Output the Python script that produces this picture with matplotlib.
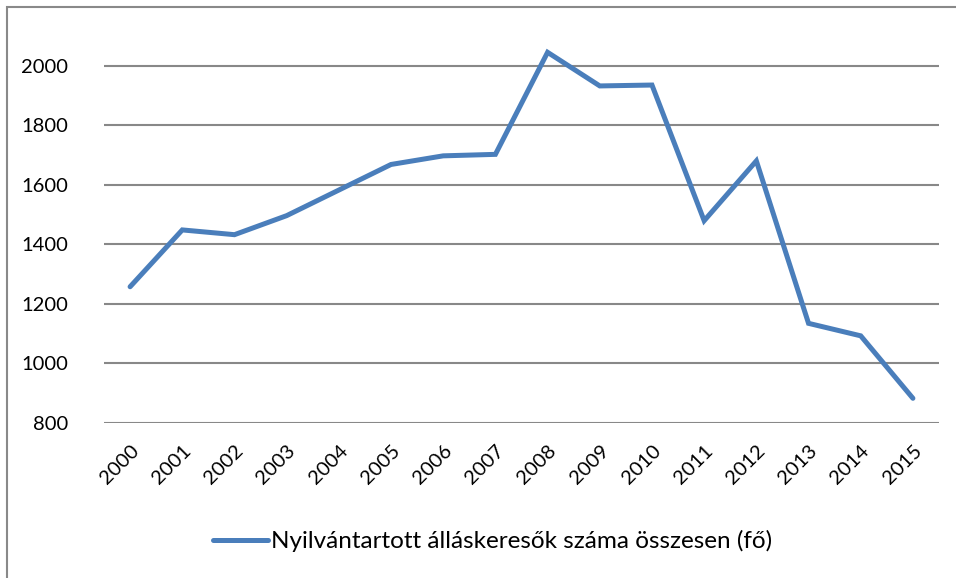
import matplotlib.pyplot as plt
from matplotlib.patches import Rectangle

# Data
years = ["2000", "2001", "2002", "2003", "2004", "2005", "2006", "2007",
         "2008", "2009", "2010", "2011", "2012", "2013", "2014", "2015"]
jobseekers = [1257, 1448, 1432, 1496, 1582, 1668, 1697, 1702,
              2045, 1932, 1935, 1479, 1680, 1134, 1092, 882]
y_ticks = [800, 1000, 1200, 1400, 1600, 1800, 2000]
series_label = "Nyilvántartott álláskeresők száma összesen (fő)"

plt.rcParams['font.family'] = ['Lato', 'DejaVu Sans']

fig = plt.figure(figsize=(9.56, 5.78), dpi=100)
ax = fig.add_axes([104 / 956, 1 - 422.7 / 578, (939 - 104) / 956, (422.7 - 6.2) / 578])

x = list(range(len(years)))
ax.plot(x, jobseekers, color="#4A7EBB", linewidth=3.6,
        solid_joinstyle="miter", solid_capstyle="round", label=series_label, zorder=3)

ax.set_xlim(-0.5, len(years) - 0.5)
ax.set_ylim(800, 2200)
ax.set_yticks(y_ticks)
ax.set_yticklabels([str(v) for v in y_ticks], fontsize=14.5)
ax.set_xticks(x)
ax.set_xticklabels(years, fontsize=14.5, rotation=45, ha="right", rotation_mode="anchor")
ax.tick_params(axis="both", length=0)
ax.tick_params(axis="y", pad=26)
ax.tick_params(axis="x", pad=14)

for v in y_ticks:
    ax.axhline(v, color="#888888", linewidth=1.5, zorder=1)
for s in ax.spines.values():
    s.set_visible(False)

fig.legend(loc="center", bbox_to_anchor=(0.515, 0.064), frameon=False,
           fontsize=17.5, handlelength=2.25, handletextpad=0.12)

# chart border (cropped on the right and bottom)
fig.patches.append(Rectangle((7 / 956, -0.05), 1.1, 1 - 7 / 578 + 0.05,
                             transform=fig.transFigure, fill=False,
                             edgecolor="#898989", linewidth=1.5))

fig.savefig("out.png", dpi=100)
